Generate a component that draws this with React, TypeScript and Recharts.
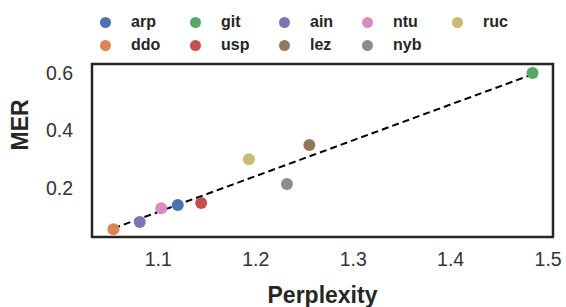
import { ScatterChart, Scatter, XAxis, YAxis, ReferenceArea, Cell } from "recharts"

const names = ["arp", "ddo", "git", "usp", "ain", "lez", "ntu", "nyb", "ruc"]
const perplexity = [1.12, 1.054, 1.484, 1.144, 1.081, 1.255, 1.103, 1.232, 1.193]
const mer = [0.141, 0.057, 0.6, 0.148, 0.082, 0.35, 0.13, 0.214, 0.3]
const colors = ["#4c72b0", "#dd8452", "#55a868", "#c44e52", "#8172b3", "#937860", "#da8bc3", "#8c8c8c", "#ccb974"]

const fitX = [1.054, 1.484]
const fitY = [0.06, 0.595]

const xTicks = [1.1, 1.2, 1.3, 1.4, 1.5]
const yTicks = [0.2, 0.4, 0.6]

const points = names.map((n, i) => ({ name: n, x: perplexity[i], y: mer[i] }))
const fitLine = fitX.map((x, i) => ({ x, y: fitY[i] }))

const xDomain = [1.032, 1.505]
const yDomain = [0.03, 0.631]

const font = "'Liberation Sans', Arial, sans-serif"

// legend is column-major, 2 rows
const legendCols = [105, 195, 284, 367, 457]

export default function App() {
  return (
    <div style={{ position: "absolute", left: 0, top: 0, width: 566, height: 307, fontFamily: font }}>
      {names.map((n, i) => {
        const col = Math.floor(i / 2)
        const row = i % 2
        const cx = legendCols[col]
        const cy = row === 0 ? 22 : 45
        return (
          <div key={n}>
            <div
              style={{
                position: "absolute",
                left: cx - 5.5,
                top: cy - 5.5,
                width: 11,
                height: 11,
                borderRadius: 6,
                background: colors[i],
              }}
            />
            <div
              style={{
                position: "absolute",
                left: cx + 26,
                top: cy - 11,
                fontSize: 16,
                fontWeight: "bold",
                color: "#262626",
                lineHeight: "22px",
              }}
            >
              {n}
            </div>
          </div>
        )
      })}
      <ScatterChart width={566} height={307} margin={{ top: 64, right: 13, bottom: 0, left: 0 }}>
        <XAxis
          type="number"
          dataKey="x"
          domain={xDomain}
          ticks={xTicks}
          tickFormatter={(v) => v.toFixed(1)}
          axisLine={false}
          tickLine={false}
          tickSize={0}
          tickMargin={15}
          height={70}
          tick={{ fill: "#333", fontSize: 19.5, fontFamily: font }}
          label={{ value: "Perplexity", position: "insideBottom", offset: 4, fill: "#262626", fontSize: 23, fontWeight: "bold", fontFamily: font }}
          allowDataOverflow
        />
        <YAxis
          type="number"
          dataKey="y"
          domain={yDomain}
          ticks={yTicks}
          tickFormatter={(v) => v.toFixed(1)}
          axisLine={false}
          tickLine={false}
          tickSize={0}
          tickMargin={19}
          width={92}
          tick={{ fill: "#333", fontSize: 19.5, fontFamily: font }}
          label={{ value: "MER", angle: -90, position: "insideLeft", offset: 20, fill: "#262626", fontSize: 23, fontWeight: "bold", fontFamily: font }}
          allowDataOverflow
        />
        <ReferenceArea
          x1={xDomain[0]}
          x2={xDomain[1]}
          y1={yDomain[0]}
          y2={yDomain[1]}
          fill="none"
          stroke="#262626"
          strokeWidth={2.5}
          ifOverflow="visible"
        />
        <Scatter data={fitLine} line={{ stroke: "#000", strokeWidth: 2, strokeDasharray: "7 4" }} shape={() => null} isAnimationActive={false} />
        <Scatter data={points} isAnimationActive={false} shape={(p: any) => <circle cx={p.cx} cy={p.cy} r={6} fill={p.fill} />}>
          {points.map((p, i) => (
            <Cell key={p.name} fill={colors[i]} />
          ))}
        </Scatter>
      </ScatterChart>
    </div>
  )
}
